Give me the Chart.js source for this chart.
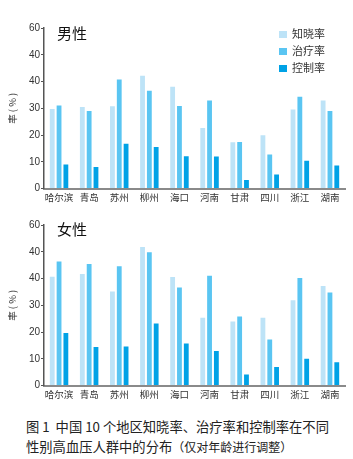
<!DOCTYPE html>
<html>
<head>
<meta charset="utf-8">
<script src="https://cdn.jsdelivr.net/npm/chart.js@4/dist/chart.umd.min.js"></script>
<style>
  html, body { margin: 0; padding: 0; background: #fff; }
  body { width: 353px; height: 459px; position: relative; overflow: hidden;
         font-family: "Noto Sans CJK SC", "Liberation Sans", sans-serif; color: #222; }
  .panel { position: absolute; left: 0; width: 353px; }
  .ptitle { position: absolute; left: 57px; font-size: 15px; color: #111; }
  .legend { position: absolute; left: 279px; top: 25px; font-size: 11px; color: #333; }
  .legend div { height: 17px; line-height: 17px; }
  .legend span { display: inline-block; width: 8px; height: 7px; margin-right: 5px; }
  .caption { position: absolute; left: 26px; top: 417px; font-size: 13.3px; line-height: 20px; color: #222; white-space: nowrap; }
  .caption .small { font-size: 12px; }
</style>
</head>
<body>
<div class="panel" style="top:0;height:206px"><canvas id="male"></canvas></div>
<div class="panel" style="top:206px;height:200px"><canvas id="female"></canvas></div>
<div class="ptitle" style="top:22px">男性</div>
<div class="ptitle" style="top:218px">女性</div>
<div class="legend" id="legend"></div>
<div class="caption">图 1&nbsp;&nbsp;中国 10 个地区知晓率、治疗率和控制率在不同<br>性别高血压人群中的分布<span class="small">（仅对年龄进行调整）</span></div>
<script>
const regions = ['哈尔滨', '青岛', '苏州', '柳州', '海口', '河南', '甘肃', '四川', '浙江', '湖南'];
const seriesNames = ['知晓率', '治疗率', '控制率'];
const seriesColors = ['#bde3f7', '#5ac5f2', '#00a2e6'];

// 男性
const maleAware   = [30.1, 30.9, 31.1, 42.5, 38.4, 23.0, 17.7, 20.3, 29.9, 33.3];
const maleTreat   = [31.4, 29.4, 41.1, 36.9, 31.2, 33.3, 17.8, 13.1, 34.7, 29.4];
const maleControl = [9.4, 8.4, 17.1, 15.9, 12.5, 12.4, 3.6, 5.6, 10.8, 9.0];

// 女性
const femaleAware   = [41.0, 42.1, 35.5, 52.2, 40.9, 25.7, 24.3, 25.7, 32.3, 37.6];
const femaleTreat   = [46.7, 45.8, 45.0, 50.2, 37.0, 41.4, 26.2, 17.6, 40.6, 35.2];
const femaleControl = [20.0, 14.8, 15.0, 23.6, 16.1, 13.3, 4.5, 7.3, 10.4, 9.1];

// tick labels as printed in the figure (the 50 line is labelled 40)
const yTickLabels = ['0', '10', '20', '30', '40', '40', '60'];

const legend = document.getElementById('legend');
seriesNames.forEach((n, i) => {
  const d = document.createElement('div');
  d.innerHTML = `<span style="background:${seriesColors[i]}"></span>${n}`;
  legend.appendChild(d);
});

function makeChart(id, values, pad) {
  const ctx = document.getElementById(id).getContext('2d');
  return new Chart(ctx, {
    type: 'bar',
    data: {
      labels: regions,
      datasets: values.map((v, i) => ({
        label: seriesNames[i],
        data: v,
        backgroundColor: seriesColors[i],
        borderColor: 'rgba(255,255,255,0.7)',
        borderWidth: 1,
        barPercentage: 1,
        categoryPercentage: 0.68
      }))
    },
    options: {
      responsive: true,
      maintainAspectRatio: false,
      animation: false,
      layout: { padding: pad },
      plugins: { legend: { display: false }, tooltip: { enabled: false } },
      scales: {
        x: {
          grid: { display: false, drawTicks: false },
          border: { color: '#8a8a8a', width: 2 },
          ticks: {
            color: '#333', padding: 3, maxRotation: 0, minRotation: 0, autoSkip: false,
            font: { size: 9.5, family: '"Noto Sans CJK SC"' }
          }
        },
        y: {
          min: 0, max: 60,
          afterFit: (s) => { s.width = 37; },
          grid: { drawOnChartArea: false, tickLength: 3, color: '#555' },
          border: { color: '#555', width: 1.5 },
          ticks: {
            stepSize: 10, padding: 1, color: '#333',
            font: { size: 10, family: '"Liberation Sans"' },
            callback: (v) => yTickLabels[v / 10]
          },
          title: {
            display: true, text: '率 ( % )', color: '#333', padding: 0,
            font: { size: 9.5, family: '"Noto Sans CJK SC"' }
          }
        }
      }
    }
  });
}

makeChart('male', [maleAware, maleTreat, maleControl], { top: 28, right: 8, left: 7, bottom: 0 });
makeChart('female', [femaleAware, femaleTreat, femaleControl], { top: 19, right: 8, left: 7, bottom: 3 });
</script>
</body>
</html>
